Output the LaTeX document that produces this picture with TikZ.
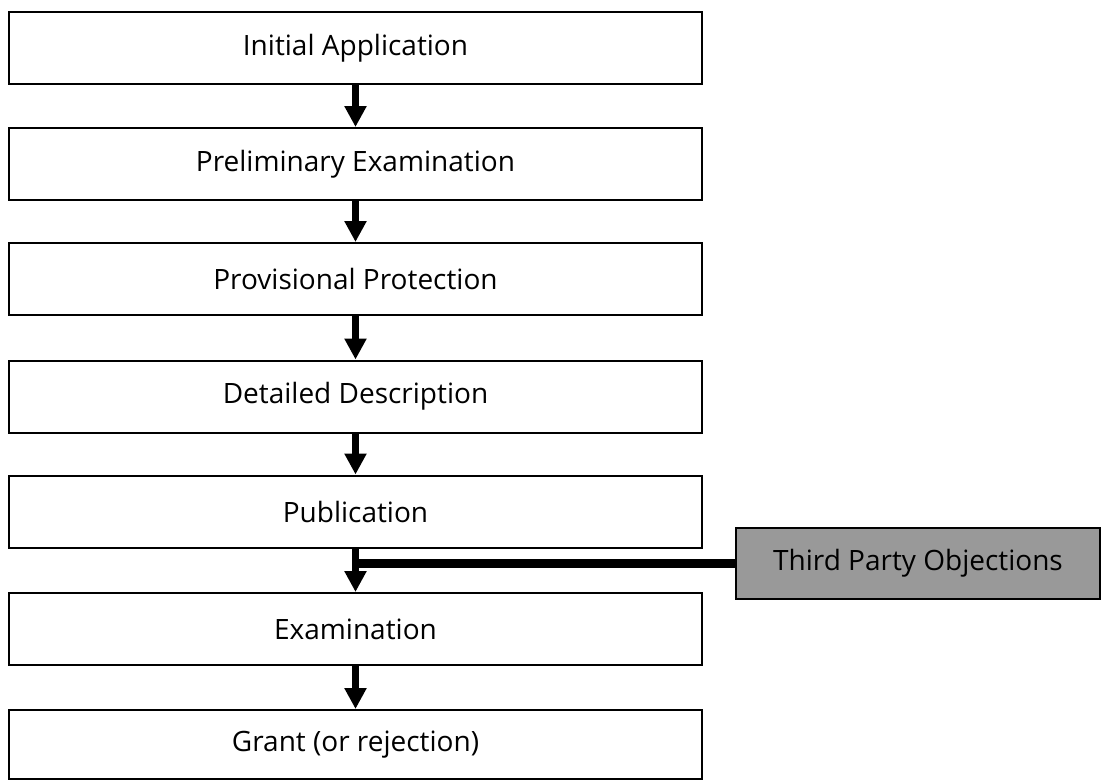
\documentclass[tikz,border=0pt]{standalone}
\usepackage{fontspec}
\setmainfont{Open Sans}
\usetikzlibrary{arrows.meta}
\begin{document}
\begin{tikzpicture}[x=1pt,y=-1pt,
  stagebox/.style={draw=black,line width=2pt,fill=white,rectangle,minimum width=693pt,minimum height=72pt,inner sep=0pt,font=\fontsize{28}{32}\selectfont},
  sidebox/.style={draw=black,line width=2pt,fill=black!40,rectangle,minimum width=364pt,minimum height=71pt,inner sep=0pt,font=\fontsize{28}{32}\selectfont},
  flow/.style={line width=7pt,-{Triangle[length=21pt,width=21pt]}},
  feed/.style={line width=9pt}]
\useasboundingbox (0,0) rectangle (1101,780);
\node[stagebox] (a) at (355.5,48) {Initial Application};
\node[stagebox] (b) at (355.5,164) {Preliminary Examination};
\node[stagebox] (c) at (355.5,279) {Provisional Protection};
\node[stagebox] (d) at (355.5,396.5) {Detailed Description};
\node[stagebox] (e) at (355.5,511.5) {Publication};
\node[stagebox] (f) at (355.5,629) {Examination};
\node[stagebox,minimum height=69pt] (g) at (355.5,744.5) {Grant (or rejection)};
\node[sidebox] (tp) at (918,563.5) {Third Party Objections};
\coordinate (j) at (e.south |- tp.west);
\draw[flow] (a.south) -- (b.north);
\draw[flow] (b.south) -- (c.north);
\draw[flow] (c.south) -- (d.north);
\draw[flow] (d.south) -- (e.north);
\draw[flow] (e.south) -- (f.north);
\draw[flow] (f.south) -- (g.north);
\draw[feed] (tp.west) -- (j);
\end{tikzpicture}
\end{document}
